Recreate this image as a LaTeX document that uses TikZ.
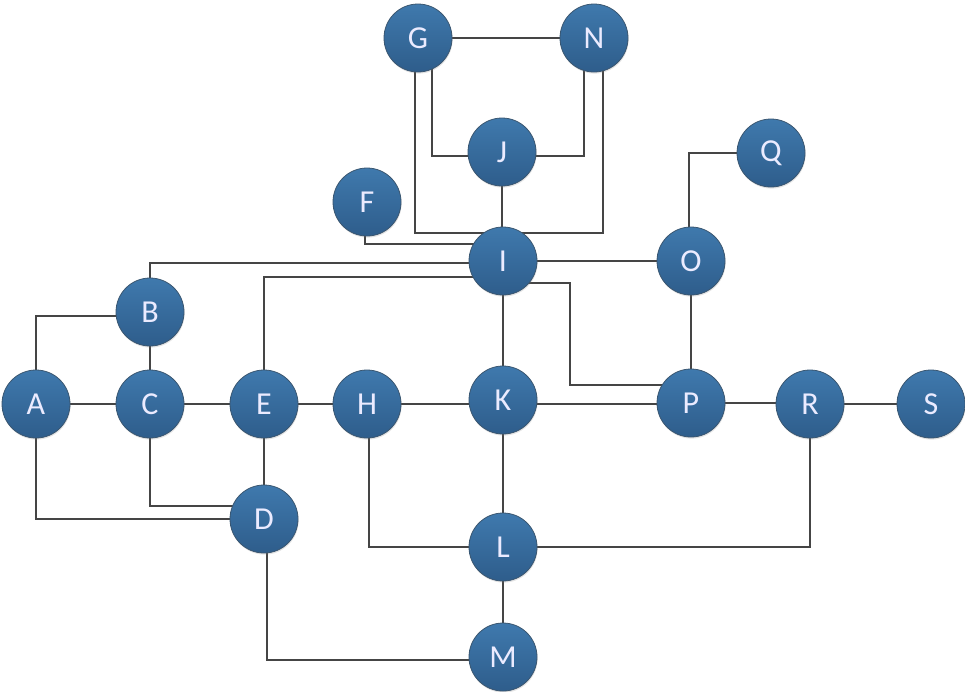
\documentclass[tikz,border=0pt]{standalone}
\usepackage{fontspec}
\setmainfont{Carlito}
\usetikzlibrary{calc,backgrounds,shadows}
\definecolor{nodetop}{HTML}{3F79AD}
\definecolor{nodebot}{HTML}{2E5D8B}
\definecolor{nodeedge}{HTML}{3A5670}
\definecolor{wire}{HTML}{454545}
\newcommand{\vl}[1]{\fontsize{32pt}{32pt}\selectfont #1}
\tikzset{
  vertex/.style={circle, minimum size=68pt, inner sep=0pt,
    top color=nodetop, bottom color=nodebot, draw=nodeedge, line width=0.8pt,
    text=white!92!blue,
    drop shadow={opacity=0.22, shadow xshift=0.6pt, shadow yshift=-1.6pt}},
  link/.style={draw=wire, line width=1.1pt}
}
\begin{document}
\begin{tikzpicture}[x=1pt, y=-1pt]
\useasboundingbox (0,0) rectangle (965,691);
% vertices
\node[vertex] (A) at (36,404) {\vl{A}};
\node[vertex] (B) at (150,312) {\vl{B}};
\node[vertex] (C) at (150,404) {\vl{C}};
\node[vertex] (D) at (264,519) {\vl{D}};
\node[vertex] (E) at (264,404) {\vl{E}};
\node[vertex] (F) at (367,202) {\vl{F}};
\node[vertex] (G) at (418,38) {\vl{G}};
\node[vertex] (H) at (367,404) {\vl{H}};
\node[vertex] (I) at (503,261) {\vl{I}};
\node[vertex] (J) at (502,152) {\vl{J}};
\node[vertex] (K) at (503,400) {\vl{K}};
\node[vertex] (L) at (503,547) {\vl{L}};
\node[vertex] (M) at (503,657) {\vl{M}};
\node[vertex] (N) at (594,38) {\vl{N}};
\node[vertex] (O) at (691,261) {\vl{O}};
\node[vertex] (P) at (691,403) {\vl{P}};
\node[vertex] (Q) at (771,153) {\vl{Q}};
\node[vertex] (R) at (810,404) {\vl{R}};
\node[vertex] (S) at (931,404) {\vl{S}};
% orthogonal connectors, drawn behind the vertices
\begin{pgfonlayer}{background}
\draw[link] (G) -- (N);
\draw[link] ($(G)+(14,0)$) |- ($(J)+(0,4)$);
\draw[link] ($(N)+(-10,0)$) |- ($(J)+(0,4)$);
\draw[link] ($(G)+(-3,0)$) |- ($(I)+(0,-28)$);
\draw[link] ($(N)+(9,0)$) |- ($(I)+(0,-28)$);
\draw[link] (J) -- (J |- I);
\draw[link] ($(F)+(-2,0)$) |- ($(I)+(0,-17)$);
\draw[link] (B) |- ($(I)+(0,2)$);
\draw[link] (E) |- ($(I)+(0,16)$);
\draw[link] (I) -- (O);
\draw[link] ($(I)+(0,22)$) -| ($(P)+(-121,-18)$) -- ($(P)+(0,-18)$);
\draw[link] (I) -- (K);
\draw[link] ($(O)+(-2,0)$) |- (Q);
\draw[link] (O) -- (P);
\draw[link] (A) |- ($(B)+(0,4)$);
\draw[link] (B) -- (C);
\draw[link] (A) -- (C);
\draw[link] (C) -- (E);
\draw[link] (E) -- (H);
\draw[link] (H) -- (H -| K);
\draw[link] ($(K)+(0,4)$) -- ($(P)+(0,1)$);
\draw[link] (P) -- (P -| R);
\draw[link] (R) -- (S);
\draw[link] (A) |- (D);
\draw[link] (C) |- ($(D)+(0,-13)$);
\draw[link] (E) -- (D);
\draw[link] ($(H)+(2,0)$) |- (L);
\draw[link] (K) -- (L);
\draw[link] (L) -- (M);
\draw[link] (L) -| (R);
\draw[link] ($(D)+(3,0)$) |- ($(M)+(0,3)$);
\end{pgfonlayer}
\end{tikzpicture}
\end{document}
